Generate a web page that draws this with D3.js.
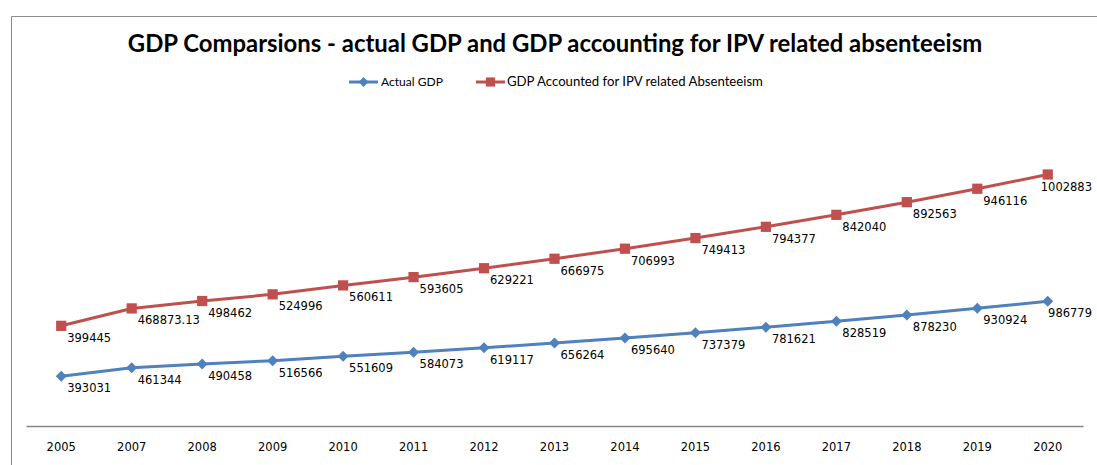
<!DOCTYPE html>
<html>
<head>
<meta charset="utf-8">
<script src="https://cdn.jsdelivr.net/npm/d3@7"></script>
<style>
  body { margin: 0; background: #fff; }
  svg { display: block; }
</style>
</head>
<body>
<div id="chart"></div>
<script>
// chart data
var years = ["2005", "2007", "2008", "2009", "2010", "2011", "2012", "2013",
  "2014", "2015", "2016", "2017", "2018", "2019", "2020"];
var actualGdp = [393031, 461344, 490458, 516566, 551609, 584073, 619117, 656264,
  695640, 737379, 781621, 828519, 878230, 930924, 986779];
var ipvGdp = [399445, 468873.13, 498462, 524996, 560611, 593605, 629221, 666975,
  706993, 749413, 794377, 842040, 892563, 946116, 1002883];
var seriesNames = ["Actual GDP", "GDP Accounted for IPV related Absenteeism"];
var yMax = 2500000;

var width = 1097, height = 465;
var blue = "#4F81BD", red = "#C0504D";
var labelFont = "'DejaVu Sans', Verdana, sans-serif";
var titleFont = "Lato, 'Open Sans', sans-serif";

var svg = d3.select("#chart").append("svg")
  .attr("width", width)
  .attr("height", height);

// outer frame (only left and top visible in the crop)
svg.append("path")
  .attr("d", "M11.5," + height + "V16.5H" + width)
  .attr("fill", "none")
  .attr("stroke", "#8c8c8c")
  .attr("stroke-width", 1);

// title, fitted to the width it takes in the reference
var title = svg.append("text")
  .attr("x", 555)
  .attr("y", 52)
  .attr("text-anchor", "middle")
  .style("font-family", titleFont)
  .style("font-weight", "bold")
  .style("font-size", "22px")
  .attr("fill", "#000")
  .text("GDP Comparsions - actual GDP and GDP accounting for IPV related absenteeism");
var tw = title.node().getComputedTextLength();
title.style("font-size", (22 * 855 / tw) + "px");

// scales
var x = d3.scaleBand().domain(years).range([26, 1083]);
var y = d3.scaleLinear().domain([0, yMax]).range([426, 110]);
var cx = function(d, i) { return x(years[i]) + x.bandwidth() / 2; };

// stacked line chart: second series sits on top of the first
var stackTop = ipvGdp.map(function(v, i) { return v + actualGdp[i]; });

// excel style diamond = square turned 45 degrees
var diamond = {
  draw: function(ctx, size) {
    var r = Math.sqrt(size / 2);
    ctx.moveTo(0, -r);
    ctx.lineTo(r, 0);
    ctx.lineTo(0, r);
    ctx.lineTo(-r, 0);
    ctx.closePath();
  }
};

var series = [
  { name: seriesNames[0], values: actualGdp, pos: actualGdp, color: blue, marker: diamond, size: 60 },
  { name: seriesNames[1], values: ipvGdp, pos: stackTop, color: red, marker: d3.symbolSquare, size: 105 }
];

// x axis
var xAxis = svg.append("g")
  .attr("transform", "translate(0,426)")
  .call(d3.axisBottom(x).tickSize(0).tickSizeOuter(0).tickPadding(17));
xAxis.select(".domain").attr("stroke", "#868686").attr("stroke-width", 1.5);
xAxis.selectAll("text")
  .style("font-family", labelFont)
  .style("font-size", "11.5px")
  .attr("fill", "#000");

var line = d3.line()
  .x(function(d, i) { return cx(d, i); })
  .y(function(d) { return y(d); });

series.forEach(function(s) {
  var g = svg.append("g");

  g.append("path")
    .datum(s.pos)
    .attr("d", line)
    .attr("fill", "none")
    .attr("stroke", s.color)
    .attr("stroke-width", 3)
    .attr("stroke-linejoin", "round");

  g.selectAll(".marker")
    .data(s.pos)
    .enter()
    .append("path")
    .attr("class", "marker")
    .attr("transform", function(d, i) {
      return "translate(" + cx(d, i) + "," + y(d) + ")";
    })
    .attr("d", d3.symbol().type(s.marker).size(s.size))
    .attr("fill", s.color);

  // data labels below-right of each point
  g.selectAll(".lbl")
    .data(s.values)
    .enter()
    .append("text")
    .attr("class", "lbl")
    .attr("y", function(d, i) { return y(s.pos[i]) + 16; })
    .style("font-family", labelFont)
    .style("font-size", "11.5px")
    .attr("fill", "#000")
    .text(function(d) { return String(d); })
    .attr("x", function(d, i) {
      var w = this.getComputedTextLength();
      return Math.min(cx(d, i) + 6, 1092 - w);
    });
});

// legend
var legend = svg.append("g");
var legendItems = [
  { x1: 349, x2: 378, tx: 381, s: series[0], tw: 62 },
  { x1: 476, x2: 505, tx: 507, s: series[1], tw: 256 }
];
legendItems.forEach(function(it) {
  legend.append("line")
    .attr("x1", it.x1).attr("x2", it.x2)
    .attr("y1", 82).attr("y2", 82)
    .attr("stroke", it.s.color)
    .attr("stroke-width", 3);
  legend.append("path")
    .attr("transform", "translate(" + ((it.x1 + it.x2) / 2) + ",82)")
    .attr("d", d3.symbol().type(it.s.marker).size(it.s.size * 0.8))
    .attr("fill", it.s.color);
  var t = legend.append("text")
    .attr("x", it.tx)
    .attr("y", 86)
    .style("font-family", titleFont)
    .style("font-size", "12px")
    .attr("fill", "#000")
    .text(it.s.name);
  var w = t.node().getComputedTextLength();
  t.style("font-size", (12 * it.tw / w) + "px");
});
</script>
</body>
</html>
